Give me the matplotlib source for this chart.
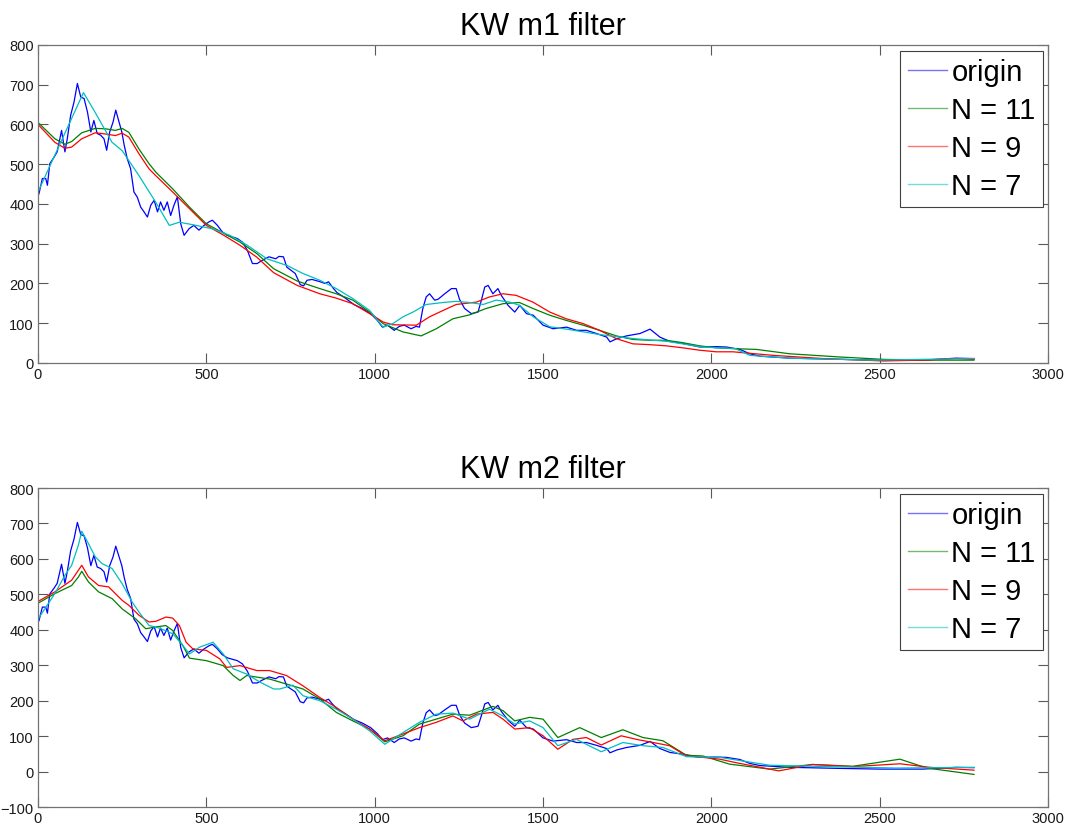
import matplotlib
matplotlib.use("Agg")
import matplotlib.pyplot as plt

plt.rcParams['font.family'] = ['Liberation Sans', 'DejaVu Sans']

# ---------------- data ----------------
origin_x = [0, 3, 13, 23, 28, 35, 48, 57, 70, 80, 87, 97, 107, 117, 127, 137, 147, 157, 166, 176,
            186, 196, 204, 213, 223, 231, 241, 249, 256, 265, 275, 285, 295, 305, 315, 325, 335,
            345, 355, 364, 374, 384, 394, 404, 414, 424, 434, 449, 463, 478, 493, 508, 518, 533,
            547, 562, 577, 592, 607, 622, 637, 651, 666, 686, 706, 716, 729, 739, 764, 779, 789,
            799, 814, 839, 852, 863, 875, 888, 913, 938, 963, 988, 1008, 1023, 1038, 1058, 1073,
            1088, 1108, 1123, 1133, 1143, 1153, 1163, 1178, 1188, 1208, 1228, 1242, 1252, 1267,
            1287, 1307, 1317, 1327, 1337, 1351, 1366, 1376, 1396, 1416, 1431, 1451, 1471, 1500,
            1530, 1570, 1600, 1629, 1659, 1689, 1699, 1719, 1748, 1788, 1818, 1847, 1877, 1916,
            1966, 2016, 2045, 2085, 2114, 2144, 2233, 2381, 2500, 2628, 2727, 2780]
origin_y = [420, 426, 464, 464, 447, 501, 518, 531, 585, 531, 564, 623, 656, 703, 669, 665, 631, 581,
            610, 577, 573, 564, 535, 581, 606, 636, 606, 581, 548, 514, 489, 430, 417, 392, 380,
            367, 397, 409, 380, 405, 384, 405, 371, 397, 418, 350, 321, 338, 346, 334, 346, 355,
            359, 346, 330, 321, 317, 313, 304, 283, 250, 250, 258, 267, 262, 268, 267, 241, 225,
            197, 194, 208, 210, 204, 200, 204, 190, 177, 163, 147, 137, 124, 107, 90, 95, 82, 92,
            95, 86, 92, 90, 137, 166, 174, 158, 160, 174, 187, 187, 160, 137, 124, 128, 158, 191,
            195, 174, 187, 170, 145, 128, 145, 124, 120, 95, 86, 90, 82, 82, 74, 65, 53, 61, 68,
            74, 85, 65, 54, 49, 40, 41, 40, 34, 23, 17, 12, 9, 7, 7, 12, 11]

# KW m1 filter
m1_n11_x = [0, 50, 80, 100, 130, 170, 200, 230, 250, 270, 300, 330, 350, 400, 450, 500, 550, 600,
            650, 700, 770, 837, 886, 935, 985, 1025, 1084, 1138, 1183, 1232, 1282, 1331, 1381,
            1430, 1470, 1520, 1569, 1619, 1668, 1718, 1767, 1816, 1866, 1915, 1965, 2014, 2064,
            2134, 2233, 2381, 2510, 2628, 2780]
m1_n11_y = [605, 564, 550, 557, 579, 590, 589, 585, 590, 580, 538, 501, 480, 438, 392, 350, 327, 304,
            275, 237, 206, 187, 174, 158, 128, 99, 78, 68, 86, 111, 121, 137, 149, 152, 137, 120,
            107, 95, 82, 68, 59, 57, 57, 51, 43, 38, 36, 34, 23, 15, 9, 7, 7]
m1_n9_x = [0, 50, 80, 100, 130, 170, 200, 230, 250, 270, 300, 330, 350, 400, 450, 500, 550, 600,
           650, 700, 770, 837, 886, 935, 985, 1025, 1054, 1124, 1163, 1203, 1242, 1302, 1341,
           1381, 1420, 1470, 1520, 1569, 1619, 1668, 1718, 1767, 1816, 1866, 1915, 1965, 2014,
           2064, 2184, 2332, 2510, 2628, 2727, 2780]
m1_n9_y = [600, 555, 540, 543, 564, 579, 576, 572, 578, 568, 526, 488, 471, 430, 388, 346, 322, 296,
           266, 227, 195, 174, 163, 149, 124, 103, 96, 95, 116, 132, 147, 153, 166, 174, 170, 153,
           128, 111, 99, 82, 61, 48, 46, 43, 38, 32, 28, 28, 19, 11, 5, 7, 11, 9]
m1_n7_x = [0, 135, 170, 220, 250, 300, 350, 390, 420, 470, 520, 570, 620, 680, 740, 787, 837, 886,
           935, 985, 1025, 1054, 1084, 1114, 1153, 1203, 1242, 1282, 1322, 1361, 1401, 1430, 1471,
           1520, 1570, 1671, 1771, 1871, 1971, 2071, 2114, 2233, 2480, 2780]
m1_n7_y = [430, 680, 630, 555, 534, 471, 404, 346, 354, 346, 337, 321, 297, 262, 245, 225, 208, 187,
           162, 132, 90, 99, 116, 128, 147, 152, 155, 152, 147, 158, 153, 145, 116, 91, 85, 71, 61,
           54, 40, 36, 19, 12, 7, 11]

# KW m2 filter
m2_n11_x = [0, 50, 100, 120, 130, 150, 180, 220, 250, 290, 320, 350, 380, 400, 430, 450, 500, 550,
            580, 600, 620, 688, 738, 787, 837, 886, 935, 985, 1030, 1084, 1133, 1183, 1232, 1282,
            1351, 1381, 1416, 1460, 1500, 1544, 1609, 1673, 1737, 1797, 1856, 1926, 1975, 2054,
            2173, 2300, 2420, 2560, 2640, 2780]
m2_n11_y = [475, 502, 525, 549, 565, 535, 507, 488, 459, 431, 403, 408, 412, 398, 356, 320, 313, 299,
            271, 257, 271, 261, 247, 233, 205, 167, 143, 120, 84, 101, 134, 148, 162, 159, 184,
            172, 143, 153, 148, 96, 124, 96, 118, 96, 87, 46, 44, 21, 7, 20, 15, 35, 10, -8]
m2_n9_x = [0, 50, 100, 130, 150, 180, 210, 230, 250, 270, 300, 330, 350, 380, 400, 420, 440, 460,
           500, 540, 560, 600, 650, 688, 738, 787, 837, 886, 935, 985, 1030, 1084, 1133, 1183,
           1232, 1262, 1302, 1351, 1381, 1416, 1460, 1500, 1544, 1589, 1629, 1673, 1732, 1777,
           1827, 1876, 1926, 1975, 2025, 2074, 2200, 2300, 2420, 2560, 2650, 2780]
m2_n9_y = [480, 507, 540, 582, 549, 525, 521, 502, 483, 469, 441, 422, 424, 436, 433, 412, 365, 346,
           342, 318, 294, 299, 285, 285, 271, 242, 209, 181, 148, 120, 87, 106, 124, 139, 157, 143,
           162, 167, 148, 120, 124, 101, 63, 91, 96, 75, 101, 91, 82, 73, 44, 40, 35, 25, 2, 20,
           14, 22, 12, 4]
m2_n7_x = [0, 50, 80, 100, 120, 130, 150, 170, 190, 220, 250, 280, 300, 330, 360, 400, 430, 450, 480,
           520, 550, 580, 620, 660, 700, 718, 757, 787, 837, 886, 935, 985, 1030, 1084, 1133, 1183,
           1232, 1282, 1341, 1381, 1416, 1460, 1500, 1544, 1599, 1673, 1737, 1797, 1856, 1926,
           2025, 2173, 2350, 2550, 2780]
m2_n7_y = [430, 502, 554, 582, 639, 678, 643, 606, 587, 573, 530, 478, 450, 412, 405, 389, 356, 332,
           351, 365, 332, 290, 275, 252, 233, 233, 244, 214, 200, 176, 148, 115, 77, 110, 139, 162,
           165, 148, 176, 157, 134, 143, 124, 73, 91, 56, 82, 73, 68, 42, 40, 18, 14, 10, 12]

labels = ['origin', 'N = 11', 'N = 9', 'N = 7']
colors = ['#0000ff', '#008000', '#ff0000', '#00bfbf']

# ---------------- figure ----------------
fig = plt.figure(figsize=(10.70, 8.29), dpi=100)
ax1 = fig.add_axes([0.0355, 0.561, 0.944, 0.3836])
ax2 = fig.add_axes([0.0355, 0.0253, 0.944, 0.3848])


def style(ax, ylim, yticks, title):
    ax.set_xlim(0, 3000)
    ax.set_ylim(*ylim)
    ax.set_xticks(range(0, 3001, 500))
    ax.set_yticks(yticks)
    ax.tick_params(direction='in', length=7, width=0.8, color='0.35',
                   labelsize=10.5, top=True, right=True, labelcolor='0.1', pad=3)
    for s in ax.spines.values():
        s.set_color('0.45')
        s.set_linewidth(0.9)
    ax.set_title(title, fontsize=22, pad=8)


def add_legend(ax):
    leg = ax.legend(labels, loc='upper right', bbox_to_anchor=(0.995, 0.981),
                    bbox_transform=ax.transAxes, fontsize=21, fancybox=False,
                    framealpha=1, edgecolor='0.25', borderaxespad=0,
                    handlelength=1.35, handletextpad=0.15, labelspacing=0.34,
                    borderpad=0.25)
    leg.get_frame().set_linewidth(0.8)
    for ln in leg.get_lines():
        ln.set_alpha(0.55)
        ln.set_linewidth(1.0)


series1 = [(origin_x, origin_y), (m1_n11_x, m1_n11_y), (m1_n9_x, m1_n9_y), (m1_n7_x, m1_n7_y)]
series2 = [(origin_x, origin_y), (m2_n11_x, m2_n11_y), (m2_n9_x, m2_n9_y), (m2_n7_x, m2_n7_y)]

for (x, y), c in zip(series1, colors):
    ax1.plot(x, y, color=c, lw=0.9)
for (x, y), c in zip(series2, colors):
    ax2.plot(x, y, color=c, lw=0.9)

style(ax1, (0, 800), range(0, 801, 100), 'KW m1 filter')
style(ax2, (-100, 800), range(-100, 801, 100), 'KW m2 filter')
add_legend(ax1)
add_legend(ax2)

fig.savefig('out.png', dpi=100)
